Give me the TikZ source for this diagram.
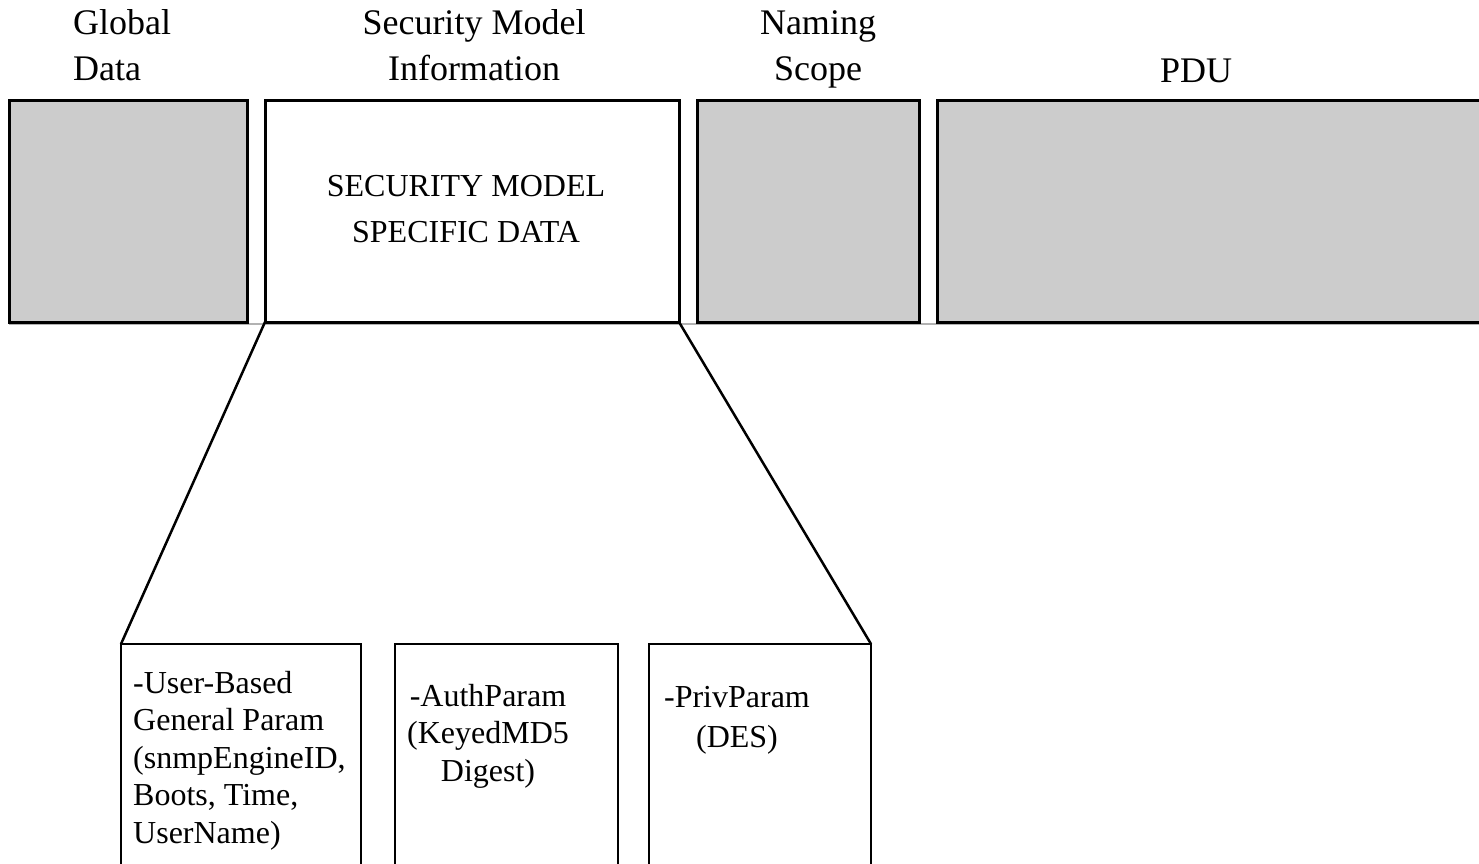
\documentclass[tikz,border=0pt]{standalone}
\usepackage{fontspec}
\setmainfont{Liberation Serif}
\definecolor{fieldgray}{HTML}{CCCCCC}

\tikzset{
  field/.style={draw, line width=3pt, fill=fieldgray, anchor=north west,
    inner sep=0pt, outer sep=0pt, minimum height=222pt},
  param/.style={draw, line width=2.5pt, anchor=north west, inner sep=0pt,
    outer sep=0pt, minimum height=260pt},
  toplabel/.style={font=\fontsize{36}{46}\selectfont, inner sep=0pt},
  boxlabel/.style={font=\fontsize{32}{37.5}\selectfont, inner sep=0pt}
}

\begin{document}
\begin{tikzpicture}[x=1pt,y=-1pt]
  \useasboundingbox (0,0) rectangle (1479,863);
  % header fields
  \draw[gray!60, line width=1.5pt] (9,324) -- (1479,324);
  \node[field, minimum width=238pt] (global) at (9,100) {};
  \node[field, fill=white, minimum width=414pt] (secinfo) at (265,100) {};
  \node[field, minimum width=222pt] (naming) at (697,100) {};
  \node[field, minimum width=600pt] (pdu) at (937,100) {};
  % header labels (base = last line)
  \node[toplabel, anchor=base west, align=left] (globaltxt) at (73,80) {Global\\Data};
  \node[toplabel, anchor=base, align=center] (secinfotxt) at (474,80) {Security Model\\Information};
  \node[toplabel, anchor=base, align=center] (namingtxt) at (818,80) {Naming\\Scope};
  \node[toplabel, anchor=base] (pdutxt) at (1196,82) {PDU};
  \node[boxlabel, anchor=base, align=center, font=\fontsize{32}{46}\selectfont] (sectxt) at (466,242) {SECURITY MODEL\\SPECIFIC DATA};
  % security model parameters
  \node[param, minimum width=240pt] (userparam) at (121,644) {};
  \node[param, minimum width=223pt] (authparam) at (395,644) {};
  \node[param, minimum width=222pt] (privparam) at (649,644) {};
  \draw[line width=2.5pt] (secinfo.south west) -- (userparam.north west);
  \draw[line width=2.5pt] (secinfo.south east) -- (privparam.north east);
  \node[boxlabel, anchor=base west, align=left] (usertxt) at (133,843)
    {-User-Based\\General Param\\(snmpEngineID,\\Boots, Time,\\UserName)};
  \node[boxlabel, anchor=base, align=center] (authtxt) at (488,781)
    {-AuthParam\\(KeyedMD5\\Digest)};
  \node[boxlabel, anchor=base, align=center] (privtxt) at (737,747)
    {-PrivParam\\[2pt](DES)};
\end{tikzpicture}
\end{document}
